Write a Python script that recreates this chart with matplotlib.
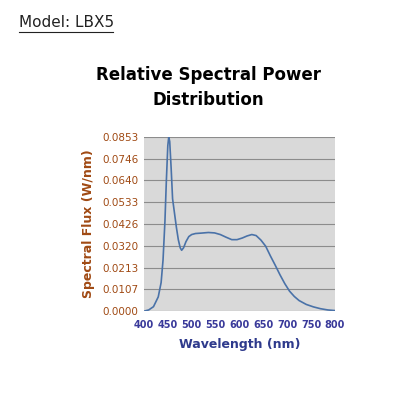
import matplotlib.pyplot as plt
import numpy as np

# spectral power distribution
wavelength = [400, 410, 420, 430, 436, 440, 444, 447, 450, 452, 454, 457, 460, 464, 468, 472, 476, 479,
              483, 488, 494, 500, 508, 520, 535, 548, 560, 572, 584, 595, 606, 616, 626, 635,
              645, 655, 665, 675, 685, 695, 705, 715, 725, 740, 755, 770, 785, 800]
flux = [0.0, 0.0006, 0.0022, 0.007, 0.014, 0.025, 0.044, 0.064, 0.081, 0.0853, 0.083, 0.070, 0.055,
        0.048, 0.041, 0.035, 0.031, 0.0298, 0.031, 0.034, 0.0365, 0.0375, 0.038, 0.0382, 0.0385,
        0.0383, 0.0375, 0.0362, 0.035, 0.035, 0.0358, 0.0368, 0.0375, 0.037, 0.0348, 0.0318,
        0.027, 0.0225, 0.0178, 0.0135, 0.0098, 0.0072, 0.0052, 0.0033, 0.0021, 0.0012, 0.0006, 0.0003]
yticks = [0.0, 0.0107, 0.0213, 0.0320, 0.0426, 0.0533, 0.0640, 0.0746, 0.0853]
xticks = [400, 450, 500, 550, 600, 650, 700, 750, 800]

fig = plt.figure(figsize=(4.16, 4.16), dpi=100)
fig.text(0.045, 0.945, "Model: LBX5", fontsize=11, color="#222222", ha="left", va="center")
fig.add_artist(plt.Line2D([0.045, 0.272], [0.922, 0.922], color="#222222", lw=0.8))
fig.text(0.5, 0.79, "Relative Spectral Power\nDistribution", fontsize=12, fontweight="bold",
         ha="center", va="center", linespacing=1.45)

ax = fig.add_axes([0.346, 0.252, 0.459, 0.419])
ax.set_facecolor("#d9d9d9")
ax.plot(wavelength, flux, color="#4a72a8", lw=1.2)
ax.set_xlim(400, 800)
ax.set_ylim(0, 0.0853)
ax.set_xticks(xticks)
ax.set_yticks(yticks)
ax.set_yticklabels([f"{v:.4f}" for v in yticks])
ax.grid(axis="y", color="#8c8c8c", lw=0.8)
ax.set_axisbelow(True)
for s in ax.spines.values():
    s.set_visible(False)
ax.tick_params(length=0, labelsize=7.5)
ax.tick_params(axis="x", colors="#3a3a9a", pad=6, labelsize=7)
ax.tick_params(axis="y", colors="#a04a14", pad=4)
for lbl in ax.get_xticklabels():
    lbl.set_fontweight("bold")
ax.set_xlabel("Wavelength (nm)", color="#2e3a8c", fontsize=9, fontweight="bold", labelpad=6)
ax.set_ylabel("Spectral Flux (W/nm)", color="#a04a14", fontsize=9, fontweight="bold", labelpad=5)

fig.savefig("out.png", dpi=100)
